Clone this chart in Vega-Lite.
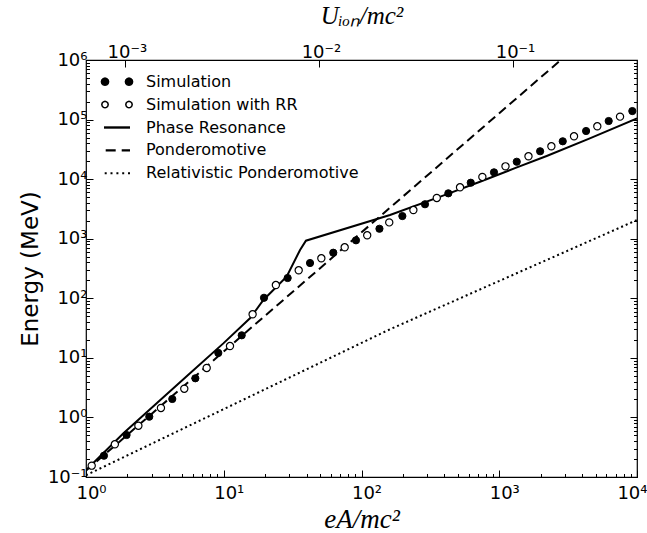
{
  "$schema": "https://vega.github.io/schema/vega-lite/v6.json",
  "width": 551,
  "height": 417,
  "autosize": {"type": "none"},
  "padding": {"left": 86, "top": 60, "right": 10, "bottom": 56},
  "background": "white",
  "config": {
    "view": {"stroke": "black", "strokeWidth": 1.2},
    "axis": {"domain": false, "grid": false, "labelFont": "DejaVu Sans", "labelFontSize": 18, "labelColor": "black", "tickColor": "black", "tickWidth": 1, "titleColor": "black", "labelOverlap": false, "labelFlush": false, "labelBound": false}
  },
  "datasets": {
    "sim": [
      {"a": 1.35, "E": 0.228}, {"a": 1.97, "E": 0.507}, {"a": 2.88, "E": 1.03}, {"a": 4.23, "E": 2.04},
      {"a": 6.22, "E": 4.54}, {"a": 9.13, "E": 12.1}, {"a": 13.5, "E": 23.9}, {"a": 19.6, "E": 102},
      {"a": 29.1, "E": 219}, {"a": 42.3, "E": 391}, {"a": 62.4, "E": 582}, {"a": 91.2, "E": 940},
      {"a": 135, "E": 1470}, {"a": 198, "E": 2400}, {"a": 289, "E": 3790}, {"a": 427, "E": 5780},
      {"a": 621, "E": 8710}, {"a": 916, "E": 13000}, {"a": 1340, "E": 19600}, {"a": 1980, "E": 29400},
      {"a": 2890, "E": 43200}, {"a": 4270, "E": 64300}, {"a": 6230, "E": 94600}, {"a": 9250, "E": 139000}
    ],
    "rr": [
      {"a": 1.1, "E": 0.155}, {"a": 1.62, "E": 0.354}, {"a": 2.4, "E": 0.726}, {"a": 3.5, "E": 1.44},
      {"a": 5.17, "E": 3.03}, {"a": 7.52, "E": 6.76}, {"a": 11.1, "E": 15.8}, {"a": 16.2, "E": 53.9},
      {"a": 23.9, "E": 167}, {"a": 35.0, "E": 295}, {"a": 51.1, "E": 469}, {"a": 75.5, "E": 718},
      {"a": 110, "E": 1140}, {"a": 159, "E": 1880}, {"a": 238, "E": 3030}, {"a": 352, "E": 4830},
      {"a": 519, "E": 7290}, {"a": 754, "E": 10900}, {"a": 1110, "E": 16400}, {"a": 1630, "E": 24200},
      {"a": 2390, "E": 35600}, {"a": 3490, "E": 52400}, {"a": 5150, "E": 77100}, {"a": 7530, "E": 112000}
    ],
    "phase": [
      {"a": 1, "E": 0.13}, {"a": 1.87, "E": 0.542}, {"a": 3.26, "E": 1.73}, {"a": 5.69, "E": 5.5},
      {"a": 9.93, "E": 17.5}, {"a": 15.5, "E": 46.1}, {"a": 19.4, "E": 93.6}, {"a": 28.6, "E": 231},
      {"a": 35.8, "E": 647}, {"a": 39.5, "E": 927}, {"a": 161, "E": 2500}, {"a": 400, "E": 5400},
      {"a": 725, "E": 9060}, {"a": 1300, "E": 15300}, {"a": 2210, "E": 24500}, {"a": 4500, "E": 48000},
      {"a": 10000, "E": 105000}
    ],
    "pond": [
      {"a": 1, "E": 0.128}, {"a": 2798, "E": 1000000}
    ],
    "rel": [
      {"a": 1, "E": 0.107}, {"a": 161, "E": 30.2}, {"a": 10000, "E": 2060}
    ],
    "legend": [
      {"series": "Simulation", "a": 0.01, "E": 1},
      {"series": "Simulation with RR", "a": 0.01, "E": 1},
      {"series": "Phase Resonance", "a": 0.01, "E": 1},
      {"series": "Ponderomotive", "a": 0.01, "E": 1},
      {"series": "Relativistic Ponderomotive", "a": 0.01, "E": 1}
    ],
    "axis2": [{"U": 0.01, "E": 1}]
  },
  "layer": [
    {
      "encoding": {
        "x": {
          "field": "a", "type": "quantitative",
          "scale": {"type": "log", "domain": [1, 10000], "nice": false},
          "axis": {
            "orient": "bottom",
            "values": [1,2,3,4,5,6,7,8,9,10,20,30,40,50,60,70,80,90,100,200,300,400,500,600,700,800,900,1000,2000,3000,4000,5000,6000,7000,8000,9000,10000],
            "tickSize": {"condition": {"test": "indexof([1,10,100,1000,10000], datum.value) >= 0", "value": -7}, "value": -3.5},
            "labelExpr": "datum.value == 1 ? '10⁰' : datum.value == 10 ? '10¹' : datum.value == 100 ? '10²' : datum.value == 1000 ? '10³' : datum.value == 10000 ? '10⁴' : ''",
            "labelAlign": {"condition": {"test": "datum.value == 10000", "value": "right"}, "value": "center"},
            "labelOffset": {"condition": {"test": "datum.value == 10000", "value": 10}, "value": 5},
            "labelPadding": 14,
            "title": "eA/mc²",
            "titleFont": "Liberation Serif", "titleFontStyle": "italic", "titleFontWeight": "normal", "titleFontSize": 27,
            "titleX": 275.5, "titleY": 42, "titleAlign": "center", "titleBaseline": "middle"
          }
        },
        "y": {
          "field": "E", "type": "quantitative",
          "scale": {"type": "log", "domain": [0.1, 1000000], "nice": false},
          "axis": {
            "orient": "left",
            "values": [0.1,0.2,0.3,0.4,0.5,0.6,0.7,0.8,0.9,1,2,3,4,5,6,7,8,9,10,20,30,40,50,60,70,80,90,100,200,300,400,500,600,700,800,900,1000,2000,3000,4000,5000,6000,7000,8000,9000,10000,20000,30000,40000,50000,60000,70000,80000,90000,100000,200000,300000,400000,500000,600000,700000,800000,900000,1000000],
            "tickSize": {"condition": {"test": "indexof([0.1,1,10,100,1000,10000,100000,1000000], datum.value) >= 0", "value": -7}, "value": -3.5},
            "labelExpr": "datum.value == 0.1 ? '10⁻¹' : datum.value == 1 ? '10⁰' : datum.value == 10 ? '10¹' : datum.value == 100 ? '10²' : datum.value == 1000 ? '10³' : datum.value == 10000 ? '10⁴' : datum.value == 100000 ? '10⁵' : datum.value == 1000000 ? '10⁶' : ''",
            "labelPadding": 6,
            "title": "Energy (MeV)",
            "titleFont": "DejaVu Sans", "titleFontWeight": "normal", "titleFontSize": 23,
            "titleX": -56, "titleY": 208.5, "titleAngle": -90, "titleAlign": "center", "titleBaseline": "middle"
          }
        }
      },
      "layer": [
        {"data": {"name": "rel"}, "mark": {"type": "line", "color": "black", "strokeWidth": 2, "strokeDash": [2, 3], "clip": true}},
        {"data": {"name": "pond"}, "mark": {"type": "line", "color": "black", "strokeWidth": 2, "strokeDash": [9, 5], "clip": true}},
        {"data": {"name": "phase"}, "mark": {"type": "line", "color": "black", "strokeWidth": 2, "clip": true}},
        {"data": {"name": "sim"}, "mark": {"type": "point", "filled": true, "fill": "black", "stroke": "black", "strokeWidth": 1, "size": 52, "opacity": 1, "clip": true}},
        {"data": {"name": "rr"}, "mark": {"type": "point", "fill": "white", "stroke": "black", "strokeWidth": 1.2, "size": 52, "opacity": 1, "clip": true}},
        {
          "data": {"name": "legend"},
          "mark": {"type": "point", "clip": true, "size": 400, "opacity": 1, "strokeWidth": 1.1},
          "encoding": {
            "shape": {
              "field": "series", "type": "nominal",
              "scale": {
                "domain": ["Simulation", "Simulation with RR", "Phase Resonance", "Ponderomotive", "Relativistic Ponderomotive"],
                "range": [
                  "M-0.84,0L-0.888,0.18L-1.02,0.312L-1.2,0.36L-1.38,0.312L-1.512,0.18L-1.56,0L-1.512,-0.18L-1.38,-0.312L-1.2,-0.36L-1.02,-0.312L-0.888,-0.18ZM1.56,0L1.512,0.18L1.38,0.312L1.2,0.36L1.02,0.312L0.888,0.18L0.84,0L0.888,-0.18L1.02,-0.312L1.2,-0.36L1.38,-0.312L1.512,-0.18Z",
                  "M-0.88,0L-0.922,0.16L-1.04,0.277L-1.2,0.32L-1.36,0.277L-1.477,0.16L-1.52,0L-1.477,-0.16L-1.36,-0.277L-1.2,-0.32L-1.04,-0.277L-0.922,-0.16ZM1.52,0L1.477,0.16L1.36,0.277L1.2,0.32L1.04,0.277L0.922,0.16L0.88,0L0.922,-0.16L1.04,-0.277L1.2,-0.32L1.36,-0.277L1.477,-0.16Z",
                  "M-1.3,-0.12L1.3,-0.12L1.3,0.12L-1.3,0.12Z",
                  "M-1.13,-0.12L-0.13,-0.12L-0.13,0.12L-1.13,0.12ZM0.47,-0.12L1.3,-0.12L1.3,0.12L0.47,0.12Z",
                  "M-1.23,-0.1L-1.03,-0.1L-1.03,0.1L-1.23,0.1ZM-0.65,-0.1L-0.45,-0.1L-0.45,0.1L-0.65,0.1ZM-0.06,-0.1L0.14,-0.1L0.14,0.1L-0.06,0.1ZM0.52,-0.1L0.72,-0.1L0.72,0.1L0.52,0.1ZM1.1,-0.1L1.3,-0.1L1.3,0.1L1.1,0.1Z"
                ]
              },
              "legend": {
                "orient": "none", "legendX": 20, "legendY": 10.7, "title": null, "padding": 0,
                "symbolSize": 400,
                "labelFont": "DejaVu Sans", "labelFontSize": 16, "labelColor": "black", "labelOffset": 18, "labelLimit": 500,
                "rowPadding": 3.9
              }
            },
            "fill": {
              "field": "series", "type": "nominal",
              "scale": {
                "domain": ["Simulation", "Simulation with RR", "Phase Resonance", "Ponderomotive", "Relativistic Ponderomotive"],
                "range": ["black", "white", "black", "black", "black"]
              }
            },
            "stroke": {
              "field": "series", "type": "nominal",
              "scale": {
                "domain": ["Simulation", "Simulation with RR", "Phase Resonance", "Ponderomotive", "Relativistic Ponderomotive"],
                "range": ["black", "black", "transparent", "transparent", "transparent"]
              }
            }
          }
        }
      ]
    },
    {
      "data": {"name": "axis2"},
      "mark": {"type": "point", "opacity": 0},
      "encoding": {
        "x": {
          "field": "U", "type": "quantitative",
          "scale": {"type": "log", "domain": [0.00063, 0.4355], "nice": false},
          "axis": {
            "orient": "top",
            "values": [0.001, 0.01, 0.1],
            "tickSize": -7,
            "labelExpr": "datum.value == 0.001 ? '10⁻³' : datum.value == 0.01 ? '10⁻²' : '10⁻¹'",
            "labelPadding": 6,
            "labelOffset": 2,
            "title": "Uᵢₒₙ/mc²",
            "titleFont": "Liberation Serif", "titleFontStyle": "italic", "titleFontWeight": "normal", "titleFontSize": 25,
            "titleX": 275.5, "titleY": -45, "titleAlign": "center", "titleBaseline": "middle"
          }
        },
        "y": {
          "field": "E", "type": "quantitative",
          "scale": {"type": "log", "domain": [0.1, 1000000], "nice": false},
          "axis": {
            "orient": "right",
            "values": [0.1,0.2,0.3,0.4,0.5,0.6,0.7,0.8,0.9,1,2,3,4,5,6,7,8,9,10,20,30,40,50,60,70,80,90,100,200,300,400,500,600,700,800,900,1000,2000,3000,4000,5000,6000,7000,8000,9000,10000,20000,30000,40000,50000,60000,70000,80000,90000,100000,200000,300000,400000,500000,600000,700000,800000,900000,1000000],
            "tickSize": {"condition": {"test": "indexof([0.1,1,10,100,1000,10000,100000,1000000], datum.value) >= 0", "value": -7}, "value": -3.5},
            "labels": false,
            "title": null
          }
        }
      }
    }
  ],
  "resolve": {"scale": {"x": "independent", "y": "independent"}}
}
